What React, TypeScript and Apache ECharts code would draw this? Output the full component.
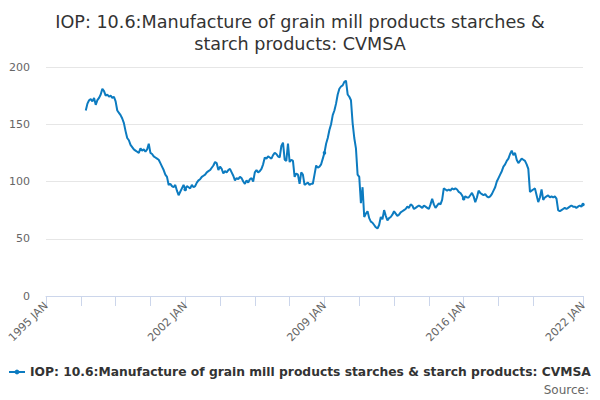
import React, { useEffect, useRef } from 'react';
import * as echarts from 'echarts';

const MONTHS = ['JAN', 'FEB', 'MAR', 'APR', 'MAY', 'JUN', 'JUL', 'AUG', 'SEP', 'OCT', 'NOV', 'DEC'];
const FIRST_YEAR = 1995;
const LAST_YEAR = 2022;
const DATA_START_YEAR = 1997;

// monthly index values, one row per year, 1997 - 2022 JAN
const values1997 = [162, 168, 171, 172, 170, 173, 167, 171, 173, 176, 181, 179];
const values1998 = [175, 176, 174, 175, 173, 174, 170, 162, 160, 158, 155, 151];
const values1999 = [144, 138, 136, 132, 130, 128, 127, 126, 125, 129, 127, 128];
const values2000 = [126, 128, 133, 125, 124, 122, 121, 120, 119, 116, 113, 110];
const values2001 = [106, 104, 97, 98, 96, 95, 97, 92, 88, 91, 94, 97];
const values2002 = [93, 96, 95, 94, 97, 95, 96, 99, 101, 102, 104, 105];
const values2003 = [106, 108, 109, 110, 112, 114, 117, 116, 110, 113, 111, 107];
const values2004 = [109, 108, 110, 111, 108, 105, 101, 103, 102, 104, 103, 100];
const values2005 = [98, 101, 99, 102, 103, 100, 108, 110, 108, 109, 111, 115];
const values2006 = [121, 120, 122, 121, 120, 123, 125, 124, 122, 121, 131, 134];
const values2007 = [119, 118, 133, 117, 119, 118, 104, 107, 106, 98, 108, 106];
const values2008 = [97, 98, 99, 97, 98, 98, 106, 114, 112, 113, 115, 120];
const values2009 = [125, 133, 138, 145, 150, 158, 162, 168, 176, 181, 183, 184];
const values2010 = [187, 188, 176, 174, 171, 151, 138, 129, 106, 104, 81, 95];
const values2011 = [69, 72, 74, 68, 65, 64, 62, 60, 59, 62, 69, 67];
const values2012 = [75, 70, 66, 68, 69, 71, 74, 72, 70, 71, 73, 74];
const values2013 = [75, 76, 78, 77, 80, 79, 76, 77, 78, 79, 78, 77];
const values2014 = [79, 78, 77, 76, 80, 85, 80, 77, 79, 81, 80, 84];
const values2015 = [94, 93, 92, 93, 92, 94, 93, 94, 93, 91, 90, 88];
const values2016 = [85, 87, 86, 86, 88, 90, 87, 82, 86, 92, 90, 89];
const values2017 = [88, 89, 87, 86, 87, 89, 92, 95, 100, 103, 106, 109];
const values2018 = [113, 115, 118, 120, 124, 127, 123, 125, 119, 116, 118, 120];
const values2019 = [119, 118, 115, 111, 91, 92, 93, 94, 88, 82, 86, 93];
const values2020 = [84, 86, 87, 88, 86, 87, 86, 87, 85, 75, 74, 75];
const values2021 = [76, 77, 76, 77, 78, 79, 78, 78, 77, 78, 79, 78];
const values2022 = [80];

const seriesName = 'IOP: 10.6:Manufacture of grain mill products starches & starch products: CVMSA';
const titleText = 'IOP: 10.6:Manufacture of grain mill products starches &\nstarch products: CVMSA';

const categories: string[] = [];
for (let y = FIRST_YEAR; y <= LAST_YEAR; y++) {
  for (let m = 0; m < 12; m++) {
    if (y === LAST_YEAR && m > 0) break;
    categories.push(`${y} ${MONTHS[m]}`);
  }
}

const observed = [
  values1997, values1998, values1999, values2000, values2001, values2002, values2003,
  values2004, values2005, values2006, values2007, values2008, values2009, values2010,
  values2011, values2012, values2013, values2014, values2015, values2016, values2017,
  values2018, values2019, values2020, values2021, values2022,
].flat();

const lead = (DATA_START_YEAR - FIRST_YEAR) * 12;
const seriesData: (number | null)[] = categories.map((_, i) =>
  i < lead ? null : observed[i - lead] ?? null
);

const lastIndex = categories.length - 1;

const App: React.FC = () => {
  const chartRef = useRef<HTMLDivElement>(null);

  useEffect(() => {
    if (!chartRef.current) return;
    const chart = echarts.init(chartRef.current, undefined, { renderer: 'svg' });

    const option: echarts.EChartsOption = {
      animation: false,
      textStyle: { fontFamily: 'DejaVu Sans' },
      title: {
        text: titleText,
        left: 'center',
        top: 6,
        textStyle: { fontSize: 17.6, fontWeight: 'normal', color: '#333', lineHeight: 22 },
      },
      grid: { left: 46, right: 17, top: 67, bottom: 104 },
      xAxis: {
        type: 'category',
        data: categories,
        boundaryGap: false,
        axisLine: { lineStyle: { color: '#ccd6eb' } },
        axisTick: {
          length: 10,
          lineStyle: { color: '#ccd6eb' },
          interval: (i: number) => (i % 21 === 0 && i <= 294) || i === lastIndex,
        },
        axisLabel: {
          rotate: 45,
          color: '#666',
          fontSize: 11,
          margin: 8,
          interval: (i: number) => i % 84 === 0 || i === lastIndex,
        },
        splitLine: { show: false },
      },
      yAxis: {
        type: 'value',
        min: 0,
        max: 200,
        interval: 50,
        axisLine: { show: false },
        axisTick: { show: false },
        axisLabel: { color: '#666', fontSize: 11, margin: 16 },
        splitLine: { lineStyle: { color: '#e6e6e6' } },
      },
      legend: {
        left: 8,
        top: 366,
        padding: 0,
        itemWidth: 16,
        itemHeight: 6,
        itemGap: 0,
        textStyle: { fontSize: 12.3, fontWeight: 'bold', color: '#333' },
        data: [seriesName],
      },
      graphic: [
        {
          type: 'text',
          right: 11,
          top: 384,
          style: { text: 'Source:', fontSize: 12, fill: '#666', fontFamily: 'DejaVu Sans' },
        },
      ],
      series: [
        {
          name: seriesName,
          type: 'line',
          data: seriesData,
          connectNulls: false,
          symbol: 'circle',
          symbolSize: 3.5,
          showSymbol: true,
          itemStyle: { color: '#0c7bc0' },
          lineStyle: { width: 2, color: '#0c7bc0' },
        },
      ],
    };

    chart.setOption(option);
    return () => chart.dispose();
  }, []);

  return (
    <div
      ref={chartRef}
      style={{ position: 'absolute', left: 0, top: 0, width: 600, height: 400 }}
    />
  );
};

export default App;
